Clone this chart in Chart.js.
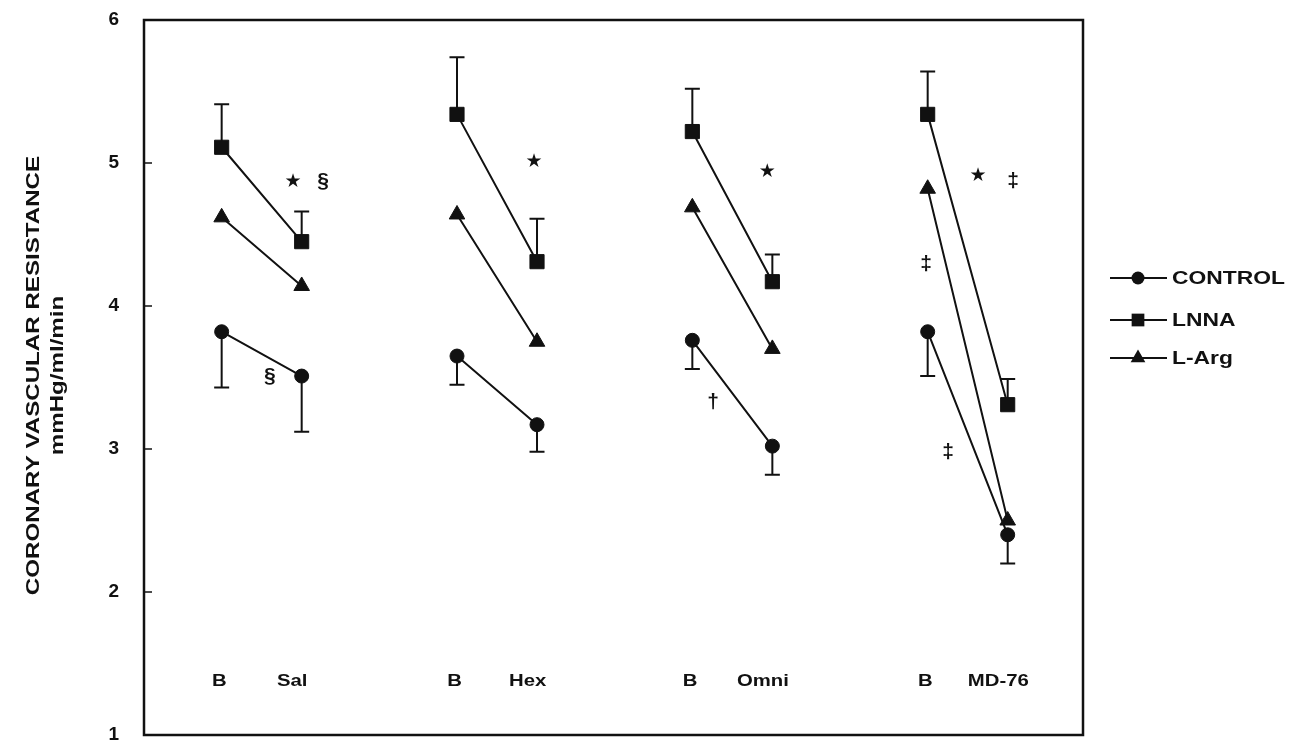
<!DOCTYPE html>
<html>
<head>
<meta charset="utf-8">
<title>Coronary vascular resistance</title>
<script src="https://cdn.jsdelivr.net/npm/chart.js"></script>
<style>
    html, body { margin: 0; padding: 0; background: #fff; }
    #wrap { width: 1293px; height: 746px; }
</style>
</head>
<body>
<div id="wrap"><canvas id="crvChart" width="1293" height="746"></canvas></div>
<script>
// Data
const categories = ['B', 'Sal', 'B', 'Hex', 'B', 'Omni', 'B', 'MD-76'];
const xPositions = [1, 1.34, 2, 2.34, 3, 3.34, 4, 4.34];
const yTicks = [1, 2, 3, 4, 5, 6];

const controlValues = [3.82, 3.51, 3.65, 3.17, 3.76, 3.02, 3.82, 2.40];
const controlErr = [0.39, 0.39, 0.20, 0.19, 0.20, 0.20, 0.31, 0.20];   // drawn downward
const lnnaValues = [5.11, 4.45, 5.34, 4.31, 5.22, 4.17, 5.34, 3.31];
const lnnaErr = [0.30, 0.21, 0.40, 0.30, 0.30, 0.19, 0.30, 0.18];      // drawn upward
const largValues = [4.62, 4.14, 4.64, 3.75, 4.69, 3.70, 4.82, 2.50];

const seriesNames = ['CONTROL', 'LNNA', 'L-Arg'];

// significance marks: symbol, x, y in data units
const marks = [
    { s: '★', x: 1.303, y: 4.87 },
    { s: '§', x: 1.431, y: 4.87 },
    { s: '§', x: 1.205, y: 3.51 },
    { s: '★', x: 2.327, y: 5.01 },
    { s: '★', x: 3.318, y: 4.94 },
    { s: '†', x: 3.088, y: 3.33 },
    { s: '★', x: 4.214, y: 4.91 },
    { s: '‡', x: 4.363, y: 4.87 },
    { s: '‡', x: 3.993, y: 4.29 },
    { s: '‡', x: 4.087, y: 2.98 }
];

const FONT = '"Liberation Sans", Arial, Helvetica, sans-serif';
const STRETCH = 1.27;

// pairs B -> treatment, broken between groups
function pairs(values) {
    const pts = [];
    values.forEach((v, i) => {
        pts.push({ x: xPositions[i], y: v });
        if (i % 2 === 1 && i < values.length - 1) {
            pts.push({ x: xPositions[i] + 0.1, y: null });
        }
    });
    return pts;
}

function stretchText(ctx, text, x, y, sx, align) {
    ctx.save();
    ctx.translate(x, y);
    ctx.scale(sx, 1);
    ctx.textAlign = align;
    ctx.fillText(text, 0, 0);
    ctx.restore();
}

function marker(ctx, style, x, y, r) {
    ctx.beginPath();
    if (style === 'circle') {
        ctx.arc(x, y, r, 0, Math.PI * 2);
    } else if (style === 'rect') {
        const s = r * Math.SQRT1_2;
        ctx.rect(x - s, y - s, 2 * s, 2 * s);
    } else {
        ctx.moveTo(x, y - r);
        ctx.lineTo(x + r * 0.866, y + r * 0.5);
        ctx.lineTo(x - r * 0.866, y + r * 0.5);
        ctx.closePath();
    }
    ctx.fill();
}

const figurePlugin = {
    id: 'figureExtras',
    beforeDatasetsDraw(chart) {
        const { ctx } = chart;
        const xs = chart.scales.x, ys = chart.scales.y;
        ctx.save();
        ctx.strokeStyle = '#111';
        ctx.lineWidth = 2;
        const cap = 7.5;
        const bar = (vals, errs, dir) => {
            vals.forEach((v, i) => {
                const px = xs.getPixelForValue(xPositions[i]);
                const y0 = ys.getPixelForValue(v);
                const y1 = ys.getPixelForValue(v + dir * errs[i]);
                ctx.beginPath();
                ctx.moveTo(px, y0);
                ctx.lineTo(px, y1);
                ctx.moveTo(px - cap, y1);
                ctx.lineTo(px + cap, y1);
                ctx.stroke();
            });
        };
        bar(lnnaValues, lnnaErr, 1);
        bar(controlValues, controlErr, -1);
        ctx.restore();
    },
    afterDraw(chart) {
        const { ctx, chartArea: a } = chart;
        const xs = chart.scales.x, ys = chart.scales.y;
        ctx.save();

        // frame
        ctx.strokeStyle = '#111';
        ctx.lineWidth = 2.5;
        ctx.strokeRect(a.left, a.top, a.right - a.left, a.bottom - a.top);

        // inner tick marks on the left axis
        ctx.lineWidth = 1.5;
        yTicks.forEach(t => {
            const py = ys.getPixelForValue(t);
            ctx.beginPath();
            ctx.moveTo(a.left, py);
            ctx.lineTo(a.left + 8, py);
            ctx.stroke();
        });

        // y axis title (two lines, rotated)
        ctx.fillStyle = '#111';
        ctx.textBaseline = 'middle';
        ctx.font = 'bold 19px ' + FONT;
        const cy = (a.top + a.bottom) / 2 - 2;
        [['CORONARY VASCULAR RESISTANCE', 34], ['mmHg/ml/min', 58]].forEach(([t, x]) => {
            ctx.save();
            ctx.translate(x, cy);
            ctx.rotate(-Math.PI / 2);
            stretchText(ctx, t, 0, 0, STRETCH, 'center');
            ctx.restore();
        });

        // condition labels inside the plot
        ctx.font = 'bold 16px ' + FONT;
        const ly = ys.getPixelForValue(1.37);
        categories.forEach((c, i) => {
            const off = i % 2 === 0 ? -0.01 : -0.04;
            stretchText(ctx, c, xs.getPixelForValue(xPositions[i] + off), ly, STRETCH, 'center');
        });

        // significance marks
        marks.forEach(m => {
            ctx.font = m.s === '★' ? '19px "DejaVu Sans", sans-serif' : 'bold 21px ' + FONT;
            ctx.textAlign = 'center';
            ctx.fillText(m.s, xs.getPixelForValue(m.x), ys.getPixelForValue(m.y));
        });

        // legend
        const styles = ['circle', 'rect', 'triangle'];
        const radii = [6.5, 9, 8.5];
        const legendY = [278, 320, 358];
        seriesNames.forEach((n, i) => {
            const y = legendY[i];
            ctx.lineWidth = 2;
            ctx.beginPath();
            ctx.moveTo(1110, y);
            ctx.lineTo(1167, y);
            ctx.stroke();
            marker(ctx, styles[i], 1138, y, radii[i]);
            ctx.font = 'bold 18px ' + FONT;
            stretchText(ctx, n, 1172, y + 1, STRETCH, 'left');
        });

        ctx.restore();
    }
};

const common = {
    borderColor: '#111',
    backgroundColor: '#111',
    pointBackgroundColor: '#111',
    pointBorderColor: '#111',
    borderWidth: 2,
    pointBorderWidth: 1,
    tension: 0,
    spanGaps: false
};

new Chart(document.getElementById('crvChart'), {
    type: 'line',
    data: {
        datasets: [
            Object.assign({ label: seriesNames[0], data: pairs(controlValues), pointStyle: 'circle', pointRadius: 7 }, common),
            Object.assign({ label: seriesNames[1], data: pairs(lnnaValues), pointStyle: 'rect', pointRadius: 10 }, common),
            Object.assign({ label: seriesNames[2], data: pairs(largValues), pointStyle: 'triangle', pointRadius: 9 }, common)
        ]
    },
    options: {
        responsive: false,
        animation: false,
        layout: { padding: { left: 0, top: 20, right: 210, bottom: 5 } },
        plugins: {
            legend: { display: false },
            tooltip: { enabled: false }
        },
        scales: {
            x: {
                type: 'linear',
                min: 0.67,
                max: 4.66,
                display: false
            },
            y: {
                min: 1,
                max: 6,
                afterFit: scale => {
                    scale.width = 144;
                    scale.paddingTop = 0;
                    scale.paddingBottom = 0;
                },
                grid: { display: false, drawTicks: false },
                border: { display: false },
                ticks: {
                    stepSize: 1,
                    padding: 25,
                    color: '#111',
                    font: { family: FONT, size: 19, weight: 'bold' }
                }
            }
        }
    },
    plugins: [figurePlugin]
});
</script>
</body>
</html>
